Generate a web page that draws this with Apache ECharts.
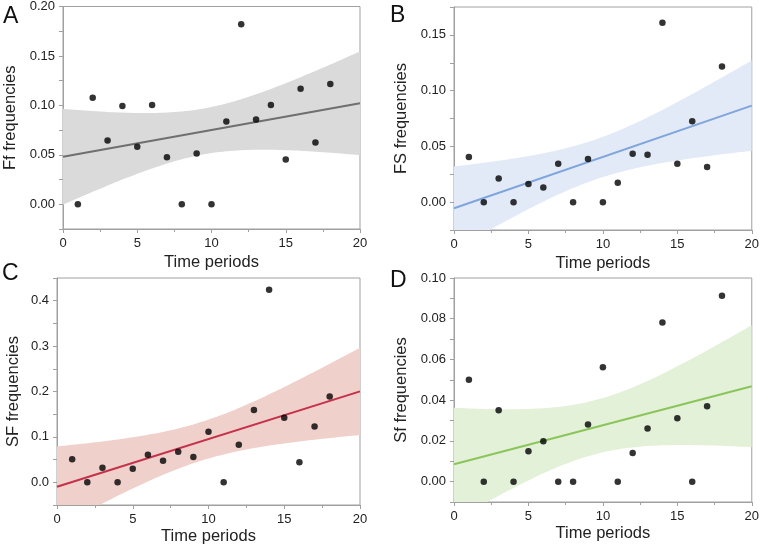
<!DOCTYPE html>
<html>
<head>
<meta charset="utf-8">
<script src="https://cdn.jsdelivr.net/npm/echarts@6/dist/echarts.min.js"></script>
<style>
html,body{margin:0;padding:0;background:#fff;}
#chart{width:762px;height:549px;}
</style>
</head>
<body>
<div id="chart"></div>
<script>
// ---- data ----
const periods = [1,2,3,4,5,6,7,8,9,10,11,12,13,14,15,16,17,18];
const ffFreq = [0.000,0.1076,0.0644,0.0995,0.0583,0.1005,0.0475,0.000,0.0513,0.000,0.0836,0.1821,0.0857,0.1005,0.0452,0.1167,0.0624,0.1217];
const fsFreq = [0.0404,0.000,0.0213,0.000,0.0162,0.0132,0.0344,0.000,0.0386,0.000,0.0174,0.0434,0.0425,0.1608,0.0344,0.0725,0.0314,0.1216];
const sFFreq = [0.0506,0.000,0.0322,0.000,0.030,0.0608,0.0476,0.0674,0.0557,0.1114,0.000,0.0828,0.159,0.4242,0.1421,0.044,0.1231,0.189];
const sfFreq = [0.050,0.000,0.0351,0.000,0.0149,0.0198,0.000,0.000,0.028,0.0562,0.000,0.0141,0.0261,0.0782,0.0311,0.000,0.037,0.0913];

const panelLetters = ['A','B','C','D'];
const yNames = ['Ff frequencies','FS frequencies','SF frequencies','Sf frequencies'];
const xName = 'Time periods';
const xTicks = [0,5,10,15,20];
const yTicksA = [0,0.05,0.10,0.15,0.20];
const yTicksB = [0,0.05,0.10,0.15];
const yTicksC = [0,0.1,0.2,0.3,0.4];
const yTicksD = [0,0.02,0.04,0.06,0.08,0.10];
const yMinorA = [-0.025,0.025,0.075,0.125,0.175];
const yMinorB = [-0.025,0.025,0.075,0.125,0.175];
const yMinorC = [-0.05,0.05,0.15,0.25,0.35,0.45];
const yMinorD = [-0.01,0.01,0.03,0.05,0.07,0.09];
const yRanges = [[-0.025,0.20],[-0.025,0.175],[-0.05,0.45],[-0.01,0.10]];
const yDecimals = [2,2,1,2];

// ---- styling ----
const grids = [
  {left:63, top:6, width:297, height:223},
  {left:454, top:7, width:298, height:223},
  {left:57, top:278, width:303, height:227},
  {left:454, top:278, width:300, height:224}
];
const bandColors = ['#dadada','#e2eaf7','#efd0ca','#e3f1d8'];
const lineColors = ['#6f6f6f','#7fa5dc','#c5304b','#8bc55a'];
const yNameGaps = [44,44,35,44];
const xNameGaps = [25,25,23,23];
const letterPos = [[3,5],[390,4],[2,262],[390,269]];
const FONT = '"Liberation Sans", Arial, Helvetica, sans-serif';
const TXT = '#222';
const AX = '#a0a0a0';

const series = [periods.map((p,i)=>[p,ffFreq[i]]), periods.map((p,i)=>[p,fsFreq[i]]),
  periods.map((p,i)=>[p,sFFreq[i]]), periods.map((p,i)=>[p,sfFreq[i]])];
const yTicks = [yTicksA,yTicksB,yTicksC,yTicksD];
const yMinor = [yMinorA,yMinorB,yMinorC,yMinorD];

// ordinary least squares fit with 95% confidence band of the mean
function fit(pts){
  const n = pts.length;
  let sx=0, sy=0; pts.forEach(p=>{sx+=p[0]; sy+=p[1];});
  const xm = sx/n, ym = sy/n;
  let sxx=0, sxy=0; pts.forEach(p=>{sxx+=(p[0]-xm)*(p[0]-xm); sxy+=(p[0]-xm)*(p[1]-ym);});
  const b = sxy/sxx, a = ym - b*xm;
  let sse=0; pts.forEach(p=>{const r=p[1]-(a+b*p[0]); sse+=r*r;});
  const s = Math.sqrt(sse/(n-2));
  const t = 2.1199; // t(0.975, 16)
  return {a,b,
    pred:x=>a+b*x,
    hw:x=>t*s*Math.sqrt(1/n+(x-xm)*(x-xm)/sxx)};
}

const option = {
  animation:false,
  backgroundColor:'#fff',
  grid: grids.map(g=>Object.assign({show:true,borderColor:AX,borderWidth:1,backgroundColor:'transparent'},g)),
  xAxis: grids.map((g,i)=>({
    type:'value', gridIndex:i, min:xTicks[0], max:xTicks[xTicks.length-1], interval:xTicks[1]-xTicks[0],
    name:xName, nameLocation:'middle', nameGap:xNameGaps[i],
    nameTextStyle:{fontFamily:FONT,fontSize:16.5,color:TXT},
    axisLine:{show:true,onZero:false,lineStyle:{color:AX,width:1}},
    axisTick:{show:true,length:4,lineStyle:{color:AX}},
    minorTick:{show:true,splitNumber:2,length:3,lineStyle:{color:AX}},
    axisLabel:{fontFamily:FONT,fontSize:13,color:TXT,margin:8},
    splitLine:{show:false}, minorSplitLine:{show:false}
  })),
  yAxis: grids.map((g,i)=>({
    type:'value', gridIndex:i, min:yRanges[i][0], max:yRanges[i][1],
    name:yNames[i], nameLocation:'middle', nameGap:yNameGaps[i], nameRotate:90,
    nameTextStyle:{fontFamily:FONT,fontSize:16.5,color:TXT},
    axisLine:{show:true,onZero:false,lineStyle:{color:AX,width:1}},
    axisTick:{show:true,length:4,lineStyle:{color:AX},customValues:yTicks[i].concat(yMinor[i])},
    axisLabel:{fontFamily:FONT,fontSize:13,color:TXT,margin:8,customValues:yTicks[i],
      formatter:v=>Number(v).toFixed(yDecimals[i])},
    splitLine:{show:false}
  })),
  graphic: panelLetters.map((L,i)=>({
    type:'text', left:letterPos[i][0], top:letterPos[i][1],
    style:{text:L, fontFamily:FONT, fontSize:23, fill:'#111'}
  })),
  series: []
};

series.forEach((pts,i)=>{
  const f = fit(pts);
  const samples = [];
  for(let k=0;k<=80;k++){ const x=k*0.25; samples.push([x, f.pred(x)-f.hw(x), f.pred(x)+f.hw(x)]); }
  option.series.push({
    type:'custom', xAxisIndex:i, yAxisIndex:i, clip:true, silent:true, z:1,
    data:samples, encode:{x:0,y:[1,2]},
    renderItem:function(params, api){
      if(params.dataIndex!==0) return;
      const upper = samples.map(s=>api.coord([s[0],s[2]]));
      const lower = samples.slice().reverse().map(s=>api.coord([s[0],s[1]]));
      const cs = params.coordSys;
      return {type:'polygon', shape:{points:upper.concat(lower)}, style:{fill:bandColors[i]},
        clipPath:{type:'rect', shape:{x:cs.x,y:cs.y,width:cs.width,height:cs.height}}};
    }
  });
  option.series.push({
    type:'line', xAxisIndex:i, yAxisIndex:i, z:3, showSymbol:false, silent:true,
    data:[[0,f.pred(0)],[20,f.pred(20)]],
    lineStyle:{color:lineColors[i], width:2}
  });
  option.series.push({
    type:'scatter', xAxisIndex:i, yAxisIndex:i, z:4, symbolSize:6.5, silent:true,
    data:pts, itemStyle:{color:'#000'}
  });
});

const chart = echarts.init(document.getElementById('chart'), null, {renderer:'canvas'});
chart.setOption(option);
</script>
</body>
</html>
